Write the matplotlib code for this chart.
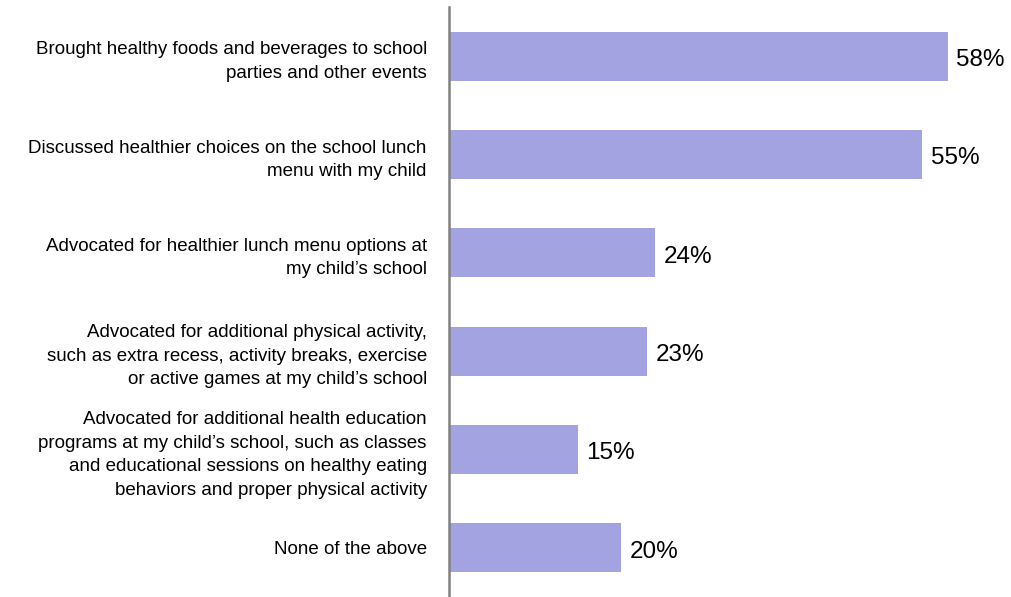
import matplotlib.pyplot as plt

plt.rcParams['font.family'] = ['Liberation Sans', 'DejaVu Sans']

actions = [
    "Brought healthy foods and beverages to school\nparties and other events",
    "Discussed healthier choices on the school lunch\nmenu with my child",
    "Advocated for healthier lunch menu options at\nmy child\u2019s school",
    "Advocated for additional physical activity,\nsuch as extra recess, activity breaks, exercise\nor active games at my child\u2019s school",
    "Advocated for additional health education\nprograms at my child\u2019s school, such as classes\nand educational sessions on healthy eating\nbehaviors and proper physical activity",
    "None of the above",
]
percents = [58, 55, 24, 23, 15, 20]

fig = plt.figure(figsize=(10.12, 5.97), dpi=100)
ax = fig.add_axes([449 / 1012, 0, 563 / 1012, 590 / 597])

ypos = list(range(len(actions)))
ax.barh(ypos, percents, height=0.5, color='#a3a3e1', edgecolor='none')

# value labels sit just right of each bar, nudged slightly down
for y, p in zip(ypos, percents):
    ax.text(p + 1.0, y + 0.04, f"{p}%", va='center', ha='left', fontsize=17.5, color='black')

ax.set_xlim(0, 563 / 8.6)
ax.set_ylim(len(actions) - 0.5, -0.5)
ax.set_yticks(ypos)
ax.set_yticklabels(actions, fontsize=13.5, ha='right')
for lbl in ax.get_yticklabels():
    lbl.set_linespacing(1.5)
ax.tick_params(axis='y', length=0, pad=16)
ax.set_xticks([])

for side in ['top', 'right', 'bottom']:
    ax.spines[side].set_visible(False)
ax.spines['left'].set_color('#808080')
ax.spines['left'].set_linewidth(1.8)

fig.savefig('out.png', dpi=100)
